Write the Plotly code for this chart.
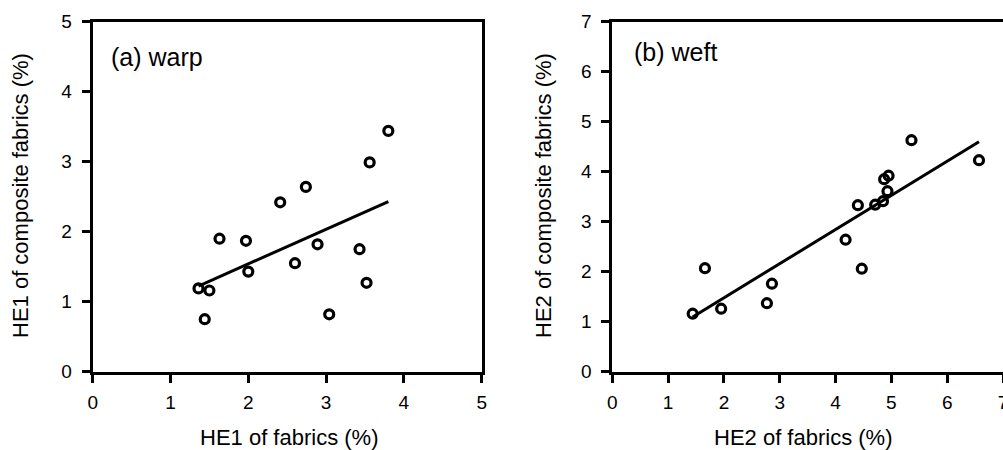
import numpy as np
import plotly.graph_objects as go

# Panel (a) warp
warp_x = [1.36, 1.50, 1.44, 1.63, 1.97, 2.00, 2.41, 2.74, 2.60, 2.89, 3.04, 3.43, 3.52, 3.56, 3.80]
warp_y = [1.19, 1.16, 0.75, 1.90, 1.87, 1.43, 2.42, 2.64, 1.55, 1.82, 0.82, 1.75, 1.27, 2.99, 3.44]

# Panel (b) weft
weft_x = [1.44, 1.66, 1.95, 2.77, 2.86, 4.18, 4.47, 4.40, 4.71, 4.85, 4.87, 4.95, 4.93, 5.36, 6.57]
weft_y = [1.16, 2.07, 1.26, 1.37, 1.76, 2.64, 2.06, 3.33, 3.34, 3.41, 3.85, 3.92, 3.61, 4.63, 4.23]

warp_ticks_x = [0, 1, 2, 3, 4, 5]
warp_ticks_y = [0, 1, 2, 3, 4, 5]
weft_ticks_x = [0, 1, 2, 3, 4, 5, 6, 7]
weft_ticks_y = [0, 1, 2, 3, 4, 5, 6, 7]

FONT = "Arial, Liberation Sans, sans-serif"
W, H = 1003, 450


def fit_line(x, y):
    x = np.asarray(x); y = np.asarray(y)
    k, b = np.polyfit(x, y, 1)
    xs = np.array([x.min(), x.max()])
    return xs, k * xs + b


fig = go.Figure()
for xs, ys, xa, ya in [(warp_x, warp_y, "x", "y"), (weft_x, weft_y, "x2", "y2")]:
    lx, ly = fit_line(xs, ys)
    fig.add_trace(go.Scatter(x=lx, y=ly, mode="lines", xaxis=xa, yaxis=ya,
                             line=dict(color="black", width=3), showlegend=False))
    fig.add_trace(go.Scatter(x=xs, y=ys, mode="markers", xaxis=xa, yaxis=ya,
                             marker=dict(symbol="circle-open", size=9, color="black",
                                         line=dict(color="black", width=3.2)),
                             showlegend=False, cliponaxis=False))

axis_common = dict(showgrid=False, zeroline=False, showline=True, linecolor="black",
                   linewidth=3, ticks="outside", ticklen=8, tickwidth=2.5, tickcolor="black",
                   tickfont=dict(family=FONT, size=19, color="black"),
                   automargin=False, ticklabeloverflow="allow")

ydom = [(450 - 371.7) / H, (450 - 21.7) / H]
fig.update_layout(
    width=W, height=H, margin=dict(l=0, r=0, t=0, b=0, pad=0, autoexpand=False),
    plot_bgcolor="white", paper_bgcolor="white",
    xaxis=dict(**axis_common, domain=[92.7 / W, 481.7 / W], range=[0, 5], mirror=True,
               tickvals=warp_ticks_x, anchor="y", ticklabelstandoff=3),
    yaxis=dict(**axis_common, domain=ydom, range=[0, 5], mirror=True,
               tickvals=warp_ticks_y, anchor="x", ticklabelstandoff=6),
    xaxis2=dict(**axis_common, domain=[612.3 / W, 1.0], range=[0, 7], mirror=True,
                tickvals=weft_ticks_x, anchor="y2", ticklabelstandoff=3),
    yaxis2=dict(**axis_common, domain=ydom, range=[0, 7], mirror=False,
                tickvals=weft_ticks_y, anchor="x2", ticklabelstandoff=6),
)

ann_font = dict(family=FONT, size=22, color="black")
annotations = [
    dict(text="HE1 of fabrics (%)", x=289 / W, y=(450 - 437) / H, xref="paper", yref="paper",
         showarrow=False, font=ann_font, xanchor="center", yanchor="middle"),
    dict(text="HE2 of fabrics (%)", x=803 / W, y=(450 - 437) / H, xref="paper", yref="paper",
         showarrow=False, font=ann_font, xanchor="center", yanchor="middle"),
    dict(text="HE1 of composite fabrics (%)", x=20 / W, y=(450 - 196) / H, xref="paper",
         yref="paper", showarrow=False, font=ann_font, textangle=-90,
         xanchor="center", yanchor="middle"),
    dict(text="HE2 of composite fabrics (%)", x=543 / W, y=(450 - 196) / H, xref="paper",
         yref="paper", showarrow=False, font=ann_font, textangle=-90,
         xanchor="center", yanchor="middle"),
    dict(text="(a) warp", x=109 / W, y=(450 - 57) / H, xref="paper", yref="paper",
         showarrow=False, font=dict(family=FONT, size=25, color="black"),
         xanchor="left", yanchor="middle"),
    dict(text="(b) weft", x=632 / W, y=(450 - 52) / H, xref="paper", yref="paper",
         showarrow=False, font=dict(family=FONT, size=25, color="black"),
         xanchor="left", yanchor="middle"),
]
fig.update_layout(annotations=annotations)

fig.write_html("out.html", config={"displayModeBar": False},
               post_script="document.body.style.margin='0';document.body.style.overflow='hidden';")
